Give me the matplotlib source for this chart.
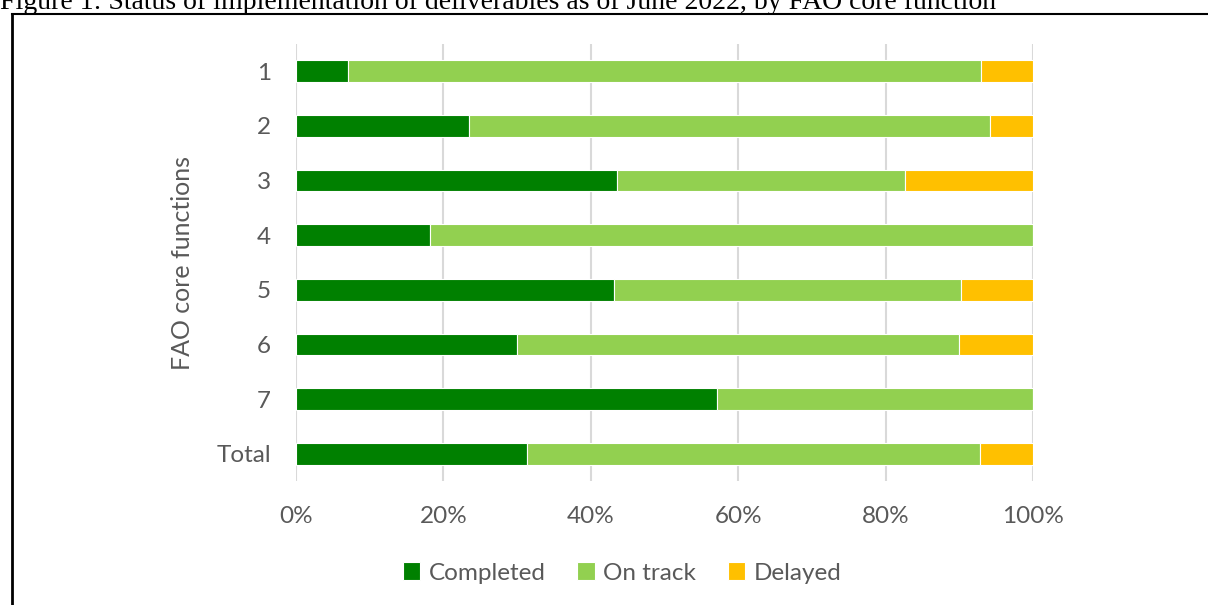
import matplotlib
matplotlib.use("Agg")
import matplotlib.pyplot as plt
from matplotlib.lines import Line2D
import numpy as np

# percentages
categories = ["1", "2", "3", "4", "5", "6", "7", "Total"]
completed = [7.1, 23.5, 43.5, 18.2, 43.1, 30.0, 57.1, 31.4]
on_track = [85.8, 70.6, 39.1, 81.8, 47.1, 60.0, 42.9, 61.4]
delayed = [7.1, 5.9, 17.4, 0.0, 9.8, 10.0, 0.0, 7.2]
xticks = [0, 20, 40, 60, 80, 100]

title = "Figure 1: Status of implementation of deliverables as of June 2022, by FAO core function"

W, H = 1208, 605
fig = plt.figure(figsize=(W / 100, H / 100), dpi=100)
ax = fig.add_axes([296 / W, 1 - 481 / H, (1033 - 296) / W, (481 - 44) / H])

font = "Lato"
grey = "#595959"

y = np.arange(len(categories))
comp = np.array(completed)
ont = np.array(on_track)
dl = np.array(delayed)

kw = dict(height=0.4, edgecolor="white", linewidth=0.8, zorder=3)
ax.barh(y, comp, color="#008000", label="Completed", **kw)
ax.barh(y, ont, left=comp, color="#92D050", label="On track", **kw)
ax.barh(y, dl, left=comp + ont, color="#FFC000", label="Delayed", **kw)

ax.set_xlim(0, 100)
ax.set_ylim(len(categories) - 0.5, -0.5)
ax.set_xticks(xticks)
ax.set_xticklabels([f"{v}%" for v in xticks], family=font, fontsize=17.5, color=grey)
ax.set_yticks(y)
ax.set_yticklabels(categories, family=font, fontsize=17.5, color=grey)
ax.tick_params(length=0)
ax.tick_params(axis="y", pad=18)
ax.tick_params(axis="x", pad=18)
ax.grid(axis="x", color="#d9d9d9", linewidth=1.5, zorder=0)
for s in ax.spines.values():
    s.set_visible(False)
ax.set_ylabel("FAO core functions", family=font, fontsize=18, color=grey, labelpad=16)

leg = fig.legend(
    loc="center",
    bbox_to_anchor=(622 / W, 1 - 573 / H),
    ncol=3,
    frameon=False,
    handlelength=0.72,
    handleheight=0.72,
    handletextpad=0.35,
    columnspacing=1.3,
    prop={"family": font, "size": 17.5},
)
for t in leg.get_texts():
    t.set_color(grey)

# caption and frame of the surrounding document box
fig.text(0, 1 - 9 / H, title, family="Liberation Serif", fontsize=20, va="baseline", ha="left")
fig.add_artist(Line2D([12 / W, 1], [1 - 14 / H, 1 - 14 / H], color="black", linewidth=1.5,
                      transform=fig.transFigure))
fig.add_artist(Line2D([12 / W, 12 / W], [0, 1 - 14 / H], color="black", linewidth=2,
                      transform=fig.transFigure))

fig.savefig("out.png", dpi=100)
